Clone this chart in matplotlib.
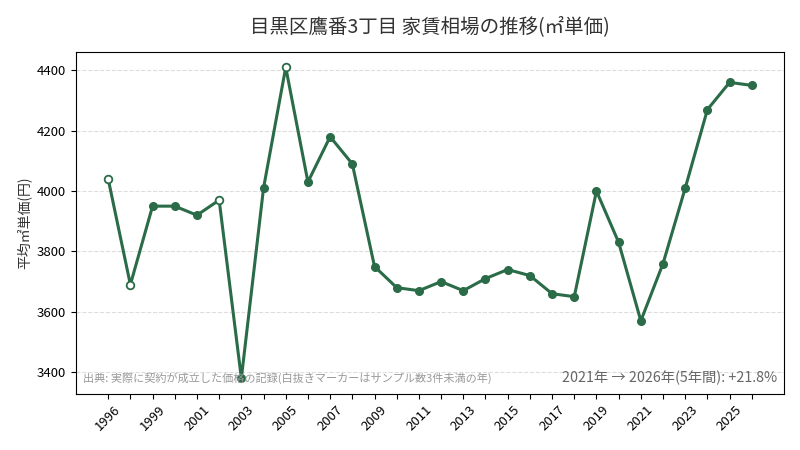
"""
目黒区鷹番3丁目 家賃相場の推移 (㎡単価) line chart.
"""

import matplotlib
matplotlib.use("Agg")
import matplotlib.pyplot as plt

plt.rcParams['font.family'] = ['Noto Sans CJK JP', 'DejaVu Sans']

years = [1996, 1997, 1999, 2000, 2001, 2002, 2003, 2004, 2005, 2006,
         2007, 2008, 2009, 2010, 2011, 2012, 2013, 2014, 2015, 2016,
         2017, 2018, 2019, 2020, 2021, 2022, 2023, 2024, 2025, 2026]
prices = [4040, 3690, 3950, 3950, 3920, 3970, 3380, 4010, 4410, 4030,
          4180, 4090, 3750, 3680, 3670, 3700, 3670, 3710, 3740, 3720,
          3660, 3650, 4000, 3830, 3570, 3760, 4010, 4270, 4360, 4350]
# years with fewer than 3 samples (drawn hollow)
low_sample = [1996, 1997, 2002, 2005]

color = '#2a6b48'

fig, ax = plt.subplots(figsize=(8, 4.5), dpi=100)

x = list(range(len(years)))
ax.plot(x, prices, color=color, linewidth=2.2, zorder=2)

for i, (yr, p) in enumerate(zip(years, prices)):
    if yr in low_sample:
        ax.plot(i, p, 'o', markersize=5.5, markerfacecolor='white',
                markeredgecolor=color, markeredgewidth=1.3, zorder=3)
    else:
        ax.plot(i, p, 'o', markersize=5.5, color=color, zorder=3)

ax.set_xticks(x)
ax.set_xticklabels([str(yr) if i % 2 == 0 else '' for i, yr in enumerate(years)],
                   rotation=45, fontsize=9.5)
ax.tick_params(axis='y', labelsize=9.5)
ax.grid(axis='y', linestyle='--', color='#dddddd', linewidth=0.8)
ax.set_axisbelow(True)

ax.set_ylabel('平均㎡単価(円)', fontsize=10, color='#333333')
ax.set_title('目黒区鷹番3丁目 家賃相場の推移(㎡単価)', fontsize=14, color='#333333', pad=14)

ax.text(0.01, 0.045, '出典: 実際に契約が成立した価格の記録(白抜きマーカーはサンプル数3件未満の年)',
        transform=ax.transAxes, fontsize=8, color='#999999', va='center', ha='left')

start = years.index(2021)
change = (prices[-1] / prices[start] - 1) * 100
ax.text(0.99, 0.045, f'{years[start]}年 → {years[-1]}年({years[-1] - years[start]}年間): +{change:.1f}%',
        transform=ax.transAxes, fontsize=10.3, color='#666666', va='center', ha='right')

plt.subplots_adjust(left=0.095, right=0.98, top=0.885, bottom=0.125)
fig.savefig('out.png', dpi=100)
